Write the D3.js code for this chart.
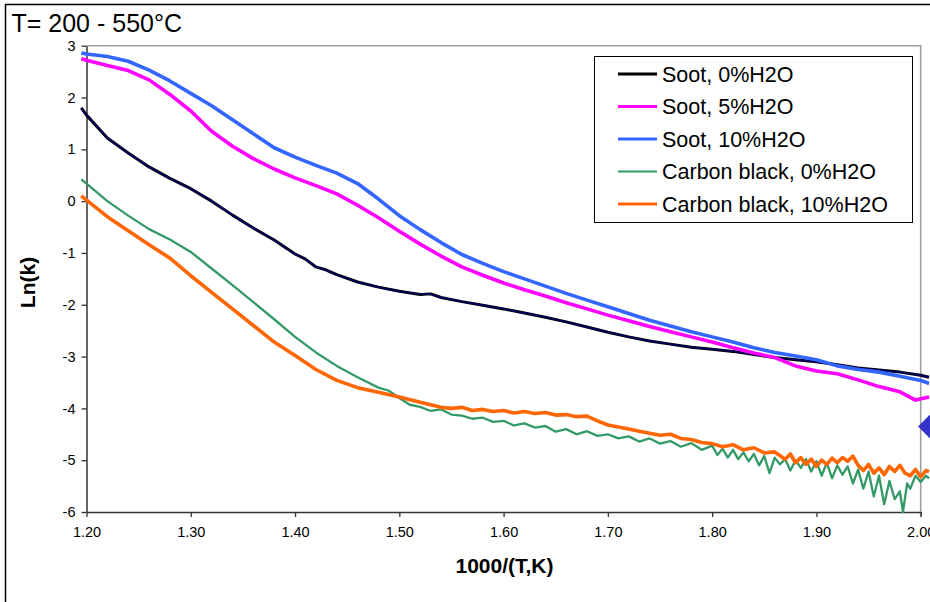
<!DOCTYPE html>
<html>
<head>
<meta charset="utf-8">
<script src="https://cdn.jsdelivr.net/npm/d3@7/dist/d3.min.js"></script>
<style>
    body { margin: 0; background: #fff; }
    text { font-family: "Liberation Sans", Arial, sans-serif; }
</style>
</head>
<body>
<div id="chart"></div>
<script>
// values: [1000/T, ln(k)]
const soot0 = [
    [1.195, 1.80], [1.20, 1.66], [1.22, 1.22], [1.24, 0.93], [1.26, 0.66], [1.28, 0.44],
    [1.30, 0.24], [1.32, 0.00], [1.34, -0.27], [1.36, -0.52], [1.38, -0.75], [1.40, -1.02],
    [1.41, -1.12], [1.42, -1.27], [1.43, -1.33], [1.44, -1.42], [1.46, -1.56], [1.48, -1.66],
    [1.50, -1.74], [1.52, -1.80], [1.53, -1.79], [1.54, -1.86], [1.56, -1.94], [1.58, -2.01],
    [1.60, -2.08], [1.62, -2.16], [1.64, -2.24], [1.66, -2.33], [1.68, -2.43], [1.70, -2.53],
    [1.72, -2.62], [1.74, -2.70], [1.76, -2.76], [1.78, -2.82], [1.80, -2.86], [1.82, -2.90],
    [1.84, -2.96], [1.86, -3.02], [1.88, -3.06], [1.90, -3.10], [1.92, -3.16], [1.94, -3.22],
    [1.96, -3.26], [1.98, -3.30], [2.00, -3.36], [2.008, -3.40]
];
const soot5 = [
    [1.195, 2.75], [1.20, 2.72], [1.22, 2.62], [1.24, 2.52], [1.26, 2.34], [1.28, 2.06],
    [1.30, 1.74], [1.32, 1.35], [1.34, 1.06], [1.36, 0.82], [1.38, 0.62], [1.40, 0.45],
    [1.42, 0.30], [1.44, 0.14], [1.46, -0.08], [1.48, -0.32], [1.50, -0.58], [1.52, -0.83],
    [1.54, -1.06], [1.56, -1.27], [1.58, -1.43], [1.60, -1.58], [1.62, -1.71], [1.64, -1.83],
    [1.66, -1.96], [1.68, -2.08], [1.70, -2.20], [1.72, -2.31], [1.74, -2.42], [1.76, -2.52],
    [1.78, -2.62], [1.80, -2.72], [1.82, -2.83], [1.84, -2.93], [1.86, -3.02], [1.88, -3.18],
    [1.90, -3.28], [1.92, -3.33], [1.94, -3.45], [1.96, -3.58], [1.98, -3.68], [1.995, -3.84],
    [2.008, -3.78]
];
const soot10 = [
    [1.195, 2.86], [1.20, 2.84], [1.22, 2.79], [1.24, 2.70], [1.26, 2.53], [1.28, 2.32],
    [1.30, 2.08], [1.32, 1.84], [1.34, 1.57], [1.36, 1.30], [1.38, 1.03], [1.40, 0.85],
    [1.42, 0.69], [1.44, 0.54], [1.46, 0.34], [1.48, 0.04], [1.50, -0.28], [1.52, -0.55],
    [1.54, -0.80], [1.56, -1.03], [1.58, -1.20], [1.60, -1.36], [1.62, -1.50], [1.64, -1.64],
    [1.66, -1.78], [1.68, -1.91], [1.70, -2.04], [1.72, -2.17], [1.74, -2.30], [1.76, -2.41],
    [1.78, -2.52], [1.80, -2.62], [1.82, -2.72], [1.84, -2.83], [1.86, -2.92], [1.88, -2.99],
    [1.90, -3.06], [1.92, -3.18], [1.94, -3.25], [1.96, -3.30], [1.98, -3.38], [2.00, -3.46],
    [2.008, -3.52]
];
const carbon0 = [
    [1.195, 0.42], [1.20, 0.34], [1.22, 0.00], [1.24, -0.28], [1.26, -0.54], [1.28, -0.74],
    [1.30, -0.98], [1.32, -1.30], [1.34, -1.62], [1.36, -1.95], [1.38, -2.28], [1.40, -2.62],
    [1.42, -2.92], [1.44, -3.18], [1.46, -3.40], [1.48, -3.60], [1.49, -3.66], [1.50, -3.80],
    [1.51, -3.93], [1.52, -3.97], [1.53, -4.05], [1.54, -4.02], [1.55, -4.12], [1.56, -4.14],
    [1.57, -4.20], [1.58, -4.18], [1.59, -4.26], [1.60, -4.24], [1.61, -4.33], [1.62, -4.29],
    [1.63, -4.37], [1.64, -4.34], [1.65, -4.45], [1.66, -4.40], [1.67, -4.50], [1.68, -4.44],
    [1.69, -4.53], [1.70, -4.50], [1.71, -4.58], [1.72, -4.54], [1.73, -4.64], [1.74, -4.58],
    [1.75, -4.68], [1.76, -4.63], [1.77, -4.74], [1.78, -4.67], [1.79, -4.80], [1.80, -4.72],
    [1.805, -4.90], [1.81, -4.78], [1.815, -4.95], [1.82, -4.80], [1.825, -4.98], [1.83, -4.85],
    [1.835, -5.02], [1.84, -4.88], [1.845, -5.10], [1.85, -4.92], [1.855, -5.25], [1.86, -4.95],
    [1.865, -5.08], [1.87, -4.98], [1.875, -5.20], [1.88, -5.00], [1.885, -5.15], [1.89, -4.98],
    [1.895, -5.22], [1.90, -5.02], [1.905, -5.30], [1.91, -5.05], [1.915, -5.35], [1.92, -5.10],
    [1.925, -5.28], [1.93, -5.12], [1.935, -5.45], [1.94, -5.18], [1.945, -5.55], [1.95, -5.22],
    [1.955, -5.70], [1.96, -5.30], [1.965, -5.85], [1.97, -5.40], [1.975, -5.75], [1.98, -5.60],
    [1.983, -6.00], [1.987, -5.45], [1.99, -5.55], [1.995, -5.30], [2.00, -5.42], [2.005, -5.30],
    [2.008, -5.35]
];
const carbon10 = [
    [1.195, 0.10], [1.20, 0.02], [1.22, -0.30], [1.24, -0.57], [1.26, -0.84], [1.28, -1.10],
    [1.30, -1.44], [1.32, -1.76], [1.34, -2.08], [1.36, -2.40], [1.38, -2.72], [1.40, -2.98],
    [1.42, -3.25], [1.44, -3.46], [1.46, -3.60], [1.48, -3.69], [1.50, -3.78], [1.52, -3.88],
    [1.54, -3.98], [1.55, -4.00], [1.56, -3.98], [1.57, -4.04], [1.58, -4.02], [1.59, -4.06],
    [1.60, -4.04], [1.61, -4.09], [1.62, -4.06], [1.63, -4.10], [1.64, -4.08], [1.65, -4.13],
    [1.66, -4.12], [1.67, -4.16], [1.68, -4.15], [1.69, -4.24], [1.70, -4.32], [1.71, -4.36],
    [1.72, -4.40], [1.73, -4.44], [1.74, -4.48], [1.75, -4.52], [1.76, -4.50], [1.77, -4.58],
    [1.78, -4.60], [1.79, -4.66], [1.80, -4.68], [1.81, -4.74], [1.82, -4.70], [1.83, -4.80],
    [1.84, -4.76], [1.85, -4.86], [1.86, -4.84], [1.87, -4.98], [1.875, -4.88], [1.88, -5.05],
    [1.885, -4.95], [1.89, -5.08], [1.895, -4.98], [1.90, -5.12], [1.905, -5.00], [1.91, -5.08],
    [1.915, -4.96], [1.92, -5.05], [1.925, -4.95], [1.93, -5.02], [1.935, -4.92], [1.94, -5.10],
    [1.945, -5.20], [1.95, -5.08], [1.955, -5.25], [1.96, -5.15], [1.965, -5.28], [1.97, -5.12],
    [1.975, -5.22], [1.98, -5.10], [1.985, -5.25], [1.99, -5.30], [1.995, -5.18], [2.00, -5.32],
    [2.005, -5.20], [2.008, -5.22]
];
// the lone diamond point cut off at the right edge
const extraPoint = [[2.0138, -4.35]];

const seriesNames = ["Soot, 0%H2O", "Soot, 5%H2O", "Soot, 10%H2O", "Carbon black, 0%H2O", "Carbon black, 10%H2O"];
const seriesData = [soot0, soot5, soot10, carbon0, carbon10];
const xTicks = [1.2, 1.3, 1.4, 1.5, 1.6, 1.7, 1.8, 1.9, 2.0];
const yTicks = [-6, -5, -4, -3, -2, -1, 0, 1, 2, 3];

const colors = ["#000000", "#ff00ff", "#3366ff", "#339966", "#ff6600"];
const widths = [3, 3.6, 3.6, 2.3, 3.6];

const width = 930, height = 602;
const plot = {left: 86.5, right: 920.7, top: 45.7, bottom: 512};

let svg = d3.select("#chart")
    .append("svg")
    .attr("width", width)
    .attr("height", height);

svg.append("rect")
    .attr("width", width)
    .attr("height", height)
    .attr("fill", "white");

// outer frame (only top and left edges show)
svg.append("path")
    .attr("d", `M5.5,${height} V4.5 H${width}`)
    .attr("fill", "none")
    .attr("stroke", "black")
    .attr("stroke-width", 1.5);

let xScale = d3.scaleLinear()
    .domain([1.2, 2.0])
    .range([plot.left, plot.right]);

let yScale = d3.scaleLinear()
    .domain([-6, 3])
    .range([plot.bottom, plot.top]);

// gray top/right edge of plot area
svg.append("path")
    .attr("d", `M${plot.left},${plot.top} H${plot.right} V${plot.bottom + 5}`)
    .attr("fill", "none")
    .attr("stroke", "#a0a0a0")
    .attr("stroke-width", 1.6);

let xAxis = svg.append("g")
    .attr("transform", `translate(0,${plot.bottom})`)
    .call(d3.axisBottom(xScale)
        .tickValues(xTicks)
        .tickFormat(d3.format(".2f"))
        .tickSize(5)
        .tickSizeOuter(0)
        .tickPadding(10));

let yAxis = svg.append("g")
    .attr("transform", `translate(${plot.left},0)`)
    .call(d3.axisLeft(yScale)
        .tickValues(yTicks)
        .tickFormat(function (d) { return String(d); })
        .tickSize(5)
        .tickSizeOuter(0)
        .tickPadding(6));

[xAxis, yAxis].forEach(function (g) {
    g.select(".domain").attr("stroke", "#333").attr("stroke-width", 1.5);
    g.selectAll(".tick line").attr("stroke", "#333").attr("stroke-width", 1.3);
    g.selectAll(".tick text")
        .attr("fill", "#000")
        .style("font-size", "14.5px")
        .style("font-family", '"Liberation Sans", Arial, sans-serif');
});

let line = d3.line()
    .x(function (d) { return xScale(d[0]); })
    .y(function (d) { return yScale(d[1]); });

seriesData.forEach(function (data, i) {
    svg.append("path")
        .datum(data)
        .attr("fill", "none")
        .attr("stroke", colors[i])
        .attr("stroke-width", widths[i])
        .attr("stroke-linejoin", "round")
        .attr("d", line);
    if (i === 0) {
        // navy core on the black soot line
        svg.append("path")
            .datum(data)
            .attr("fill", "none")
            .attr("stroke", "#00006e")
            .attr("stroke-width", 1.4)
            .attr("d", line);
    }
});

svg.selectAll(".extra")
    .data(extraPoint)
    .enter()
    .append("path")
    .attr("class", "extra")
    .attr("d", d3.symbol().type(d3.symbolSquare).size(578))
    .attr("transform", function (d) { return `translate(${xScale(d[0])},${yScale(d[1])}) rotate(45)`; })
    .attr("fill", "#3333cc");

// legend
let legend = svg.append("g");
legend.append("rect")
    .attr("x", 594.5)
    .attr("y", 56.5)
    .attr("width", 318)
    .attr("height", 166)
    .attr("fill", "white")
    .attr("stroke", "black")
    .attr("stroke-width", 1);

seriesNames.forEach(function (name, i) {
    let yy = 74 + i * 32.5;
    legend.append("line")
        .attr("x1", 618)
        .attr("x2", 657)
        .attr("y1", yy)
        .attr("y2", yy)
        .attr("stroke", colors[i])
        .attr("stroke-width", i === 3 ? 2.2 : 3.2);
    legend.append("text")
        .attr("x", 662)
        .attr("y", yy + 7.8)
        .style("font-size", "21.5px")
        .text(name);
});

svg.append("text")
    .attr("x", 11.5)
    .attr("y", 32)
    .style("font-size", "25px")
    .text("T= 200 - 550°C");

svg.append("text")
    .attr("x", 504.5)
    .attr("y", 573)
    .attr("text-anchor", "middle")
    .style("font-size", "21px")
    .style("font-weight", "bold")
    .text("1000/(T,K)");

svg.append("text")
    .attr("transform", "translate(35,282.5) rotate(-90)")
    .attr("text-anchor", "middle")
    .style("font-size", "21px")
    .style("font-weight", "bold")
    .text("Ln(k)");
</script>
</body>
</html>
